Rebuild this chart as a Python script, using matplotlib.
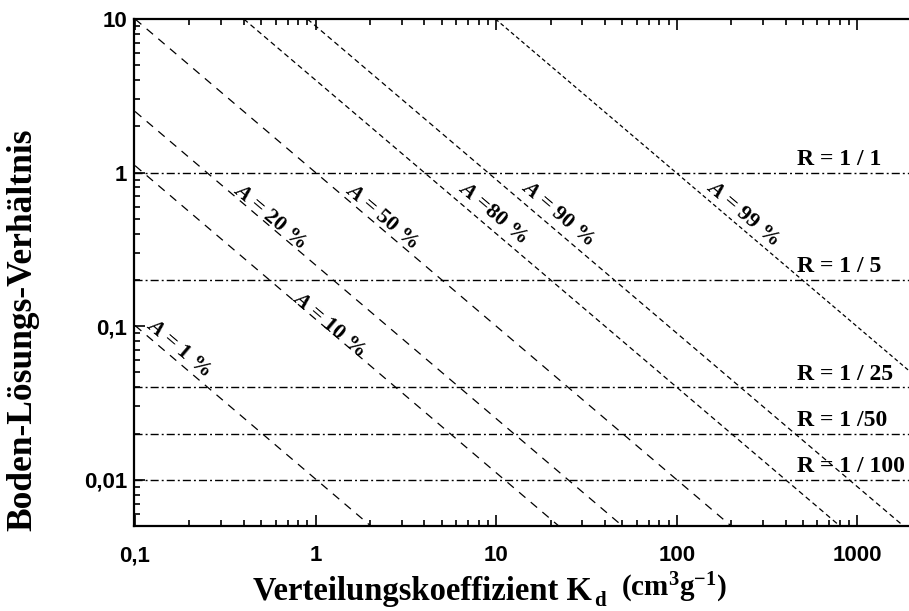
import numpy as np
import matplotlib
matplotlib.use("Agg")
import matplotlib.pyplot as plt
from matplotlib.ticker import FixedLocator, FixedFormatter, LogLocator, NullFormatter

# ---------------- data ----------------
x_ticks = [0.1, 1, 10, 100, 1000]
x_ticklabels = ["0,1", "1", "10", "100", "1000"]
y_ticks = [0.01, 0.1, 1, 10]
y_ticklabels = ["0,01", "0,1", "1", "10"]

# horizontal R lines (soil/solution ratio)
r_values = [1.0, 0.2, 0.04, 0.02, 0.01]
r_labels = ["R = 1 / 1", "R = 1 / 5", "R = 1 / 25", "R = 1 /50", "R = 1 / 100"]

# A lines: end points
a_labels = ["A = 1 %", "A = 10 %", "A = 20 %", "A = 50 %", "A =80 %", "A = 90 %", "A = 99 %"]
a_x0 = [0.1, 0.1, 0.1, 0.1, 0.4, 0.9, 9.9]
a_y0 = [0.101, 1.11, 2.5, 10.0, 10.0, 10.0, 10.0]
a_x1 = [2.02, 22.2, 50.0, 200.0, 800.0, 1800.0, 1930.0]
a_y1 = [0.005, 0.005, 0.005, 0.005, 0.005, 0.005, 0.0513]
# label positions (data coords)
a_lab_x = [0.175, 1.18, 0.555, 2.33, 9.5, 22.0, 233.0]
a_lab_y = [0.072, 0.102, 0.514, 0.514, 0.545, 0.54, 0.54]

# ---------------- style ----------------
plt.rcParams['lines.scale_dashes'] = False
plt.rcParams['mathtext.fontset'] = 'custom'
plt.rcParams['mathtext.rm'] = 'Liberation Serif:bold'
plt.rcParams['mathtext.bf'] = 'Liberation Serif:bold'
plt.rcParams['mathtext.it'] = 'Liberation Serif:bold:italic'

W, H = 909, 611
fig = plt.figure(figsize=(W / 100, H / 100), dpi=100)
L, R_, T, B = 134, 909, 19, 526
ax = fig.add_axes([L / W, 1 - B / H, (R_ - L) / W, (B - T) / H])
ax.set_xscale('log')
ax.set_yscale('log')
ax.set_xlim(0.0987, 1930)
ax.set_ylim(0.005, 10)

long_dash = (0, (6.0, 5.0))
mid_dash = (0, (3.8, 2.6))
short_dash = (0, (2.9, 2.0))
styles = [long_dash, long_dash, long_dash, long_dash, mid_dash, mid_dash, short_dash]

for i in range(len(a_labels)):
    ax.plot([a_x0[i], a_x1[i]], [a_y0[i], a_y1[i]], color='black', lw=0.9,
            linestyle=styles[i])

for rv in r_values:
    ax.axhline(rv, color='black', lw=1.0, linestyle=(0, (5.8, 2.2, 1.4, 2.2)))

# rotation angle in display space
p0 = ax.transData.transform((a_x0[1], a_y0[1]))
p1 = ax.transData.transform((a_x1[1], a_y1[1]))
ang = np.degrees(np.arctan2(p1[1] - p0[1], p1[0] - p0[0]))

serif = 'Liberation Serif'
for i, lab in enumerate(a_labels):
    txt = lab.replace("A", r"$\mathit{A}$", 1)
    ax.text(a_lab_x[i], a_lab_y[i], txt, rotation=ang, rotation_mode='anchor',
            ha='center', va='center', fontsize=16, fontfamily=serif,
            fontweight='bold')

for rv, lab in zip(r_values, r_labels):
    ax.annotate(lab, (465, rv), xytext=(0, 2), textcoords='offset points',
                ha='left', va='bottom', fontsize=17, fontfamily=serif,
                fontweight='bold')

# ticks
ax.xaxis.set_major_locator(FixedLocator(x_ticks))
ax.xaxis.set_major_formatter(FixedFormatter(x_ticklabels))
ax.yaxis.set_major_locator(FixedLocator(y_ticks))
ax.yaxis.set_major_formatter(FixedFormatter(y_ticklabels))
ax.xaxis.set_minor_locator(LogLocator(base=10, subs=np.arange(2, 10)))
ax.yaxis.set_minor_locator(LogLocator(base=10, subs=np.arange(2, 10)))
ax.xaxis.set_minor_formatter(NullFormatter())
ax.yaxis.set_minor_formatter(NullFormatter())
ax.tick_params(which='both', direction='in', top=True, right=False, width=1.2)
ax.tick_params(which='major', length=8)
ax.tick_params(which='minor', length=4.5)
ax.tick_params(axis='x', which='major', pad=14)
ax.tick_params(axis='y', which='major', pad=5)
for lab in ax.get_xticklabels() + ax.get_yticklabels():
    lab.set_fontfamily('Liberation Sans')
    lab.set_fontweight('bold')
    lab.set_fontsize(16)

for s in ['left', 'bottom', 'top']:
    ax.spines[s].set_linewidth(1.6)
ax.spines['right'].set_visible(False)

# axis labels
fig.text(253 / W, 1 - 600 / H, "Verteilungskoeffizient K", ha='left', va='baseline',
         fontsize=23.5, fontfamily=serif, fontweight='bold')
fig.text(594 / W, 1 - 606 / H, "d", ha='left', va='baseline',
         fontsize=15, fontfamily=serif, fontweight='bold')
fig.text(621 / W, 1 - 596 / H, r"(cm$^{\mathbf{3}}$g$^{\mathbf{-1}}$)", ha='left',
         va='baseline', fontsize=21, fontfamily=serif, fontweight='bold')
fig.text(23 / W, 1 - 330 / H, "Boden-Lösungs-Verhältnis", rotation=90, ha='center',
         va='center', fontsize=25.5, fontfamily=serif, fontweight='bold')

fig.savefig("out.png", dpi=100)
